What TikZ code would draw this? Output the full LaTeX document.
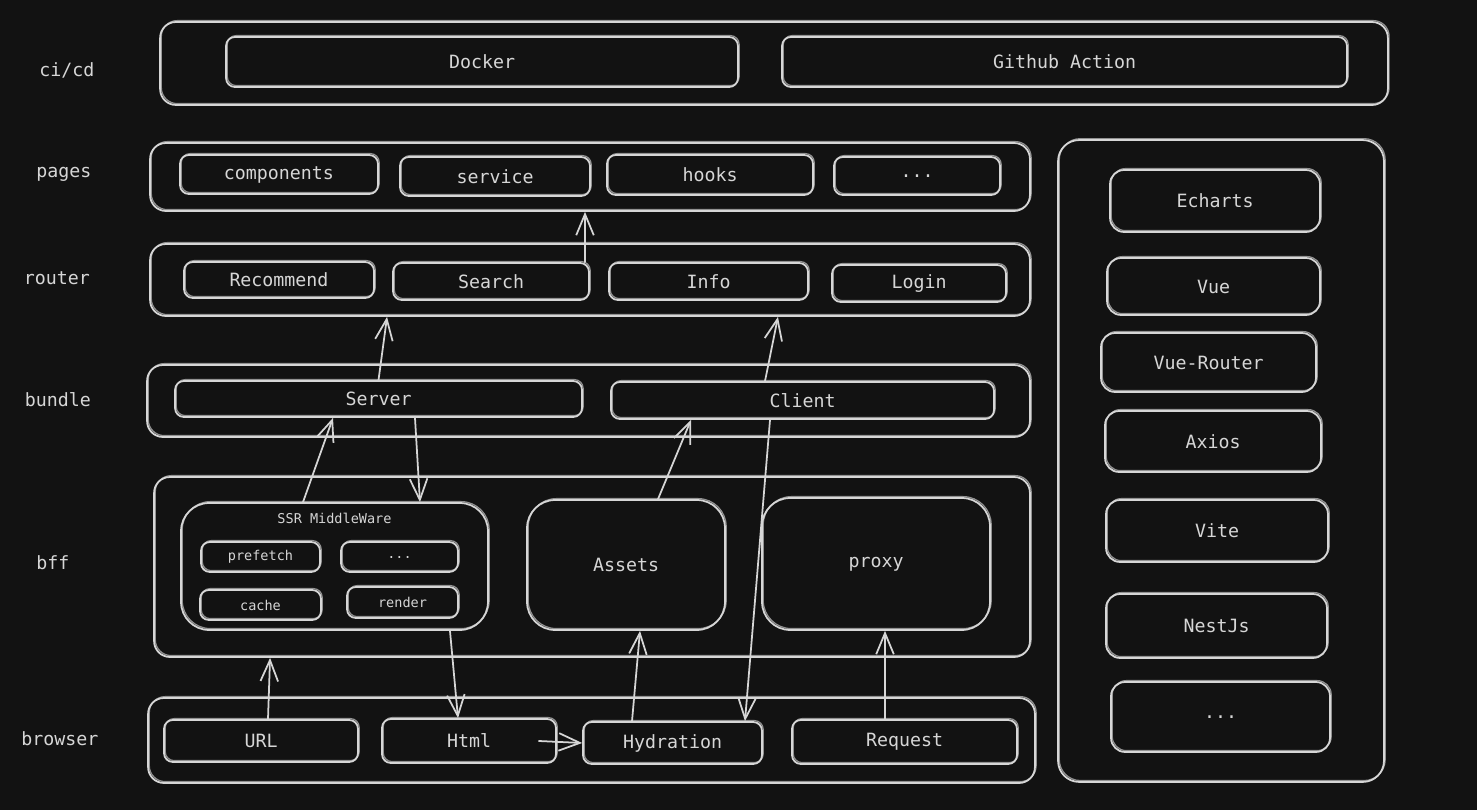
\documentclass[tikz,border=0pt]{standalone}
\usepackage{fontspec}
\newfontfamily\sketchfont{DejaVu Sans Mono}
\usetikzlibrary{arrows.meta}
\definecolor{bg}{HTML}{121212}
\definecolor{ink}{HTML}{D6D6D6}
\begin{document}
\begin{tikzpicture}[x=0.02cm,y=-0.02cm,
    every node/.style={text=ink,font=\sketchfont\fontsize{10.4}{12}\selectfont},
    box/.style={draw=ink,line width=1pt,rounded corners=5pt,inner sep=0pt,
        preaction={draw=ink!65!bg,line width=0.7pt,transform canvas={shift={(0.7pt,0.8pt)}}}},
    bigbox/.style={box,rounded corners=9pt},
    roundbox/.style={box,rounded corners=16pt},
    small/.style={font=\sketchfont\fontsize{7.7}{9}\selectfont},
    arr/.style={draw=ink,line width=1pt,line cap=round,-{Straight Barb[length=12pt,width=10pt]}}]
    \fill[bg] (0,0) rectangle (1477,810);

    % row labels
    \node at (67,70) (lcicd) {ci/cd};
    \node at (64,174) (lpages) {pages};
    \node at (57,278) (lrouter) {router};
    \node at (58,400) (lbundle) {bundle};
    \node at (53,563) (lbff) {bff};
    \node at (60,739) (lbrowser) {browser};

    % ci/cd
    \node[bigbox,minimum width=24.56cm,minimum height=1.66cm] at (774,63.5) (cicd) {};
    \node[box,minimum width=10.24cm,minimum height=1cm] at (482,62) (docker) {Docker};
    \node[box,minimum width=11.3cm,minimum height=1cm] at (1064.5,62) (gh) {Github Action};

    % pages
    \node[bigbox,minimum width=17.6cm,minimum height=1.36cm] at (590,177) (pages) {};
    \node[box,minimum width=3.96cm,minimum height=0.78cm] at (279,174.5) (comp) {components};
    \node[box,minimum width=3.8cm,minimum height=0.78cm] at (495,176.5) (svc) {service};
    \node[box,minimum width=4.12cm,minimum height=0.8cm] at (710,175) (hooks) {hooks};
    \node[box,minimum width=3.32cm,minimum height=0.76cm] at (917,176) (pmore) {...};

    % router
    \node[bigbox,minimum width=17.6cm,minimum height=1.44cm] at (590,280) (router) {};
    \node[box,minimum width=3.8cm,minimum height=0.72cm] at (279,280) (rec) {Recommend};
    \node[box,minimum width=3.92cm,minimum height=0.74cm] at (491,281.5) (search) {Search};
    \node[box,minimum width=3.98cm,minimum height=0.74cm] at (708.5,281.5) (info) {Info};
    \node[box,minimum width=3.48cm,minimum height=0.74cm] at (919,283.5) (login) {Login};

    % bundle
    \node[bigbox,minimum width=17.66cm,minimum height=1.44cm] at (588.5,401) (bundle) {};
    \node[box,minimum width=8.14cm,minimum height=0.72cm] at (378.5,399) (server) {Server};
    \node[box,minimum width=7.66cm,minimum height=0.74cm] at (802.5,400.5) (client) {Client};

    % bff
    \node[bigbox,minimum width=17.52cm,minimum height=3.6cm] at (592,567) (bff) {};
    \node[roundbox,minimum width=6.14cm,minimum height=2.54cm,
        label={[small,anchor=north,yshift=-3pt]north:SSR MiddleWare}] at (334.5,566.5) (ssr) {};
    \node[box,small,minimum width=2.38cm,minimum height=0.6cm] at (260.5,557) (prefetch) {prefetch};
    \node[box,small,minimum width=2.34cm,minimum height=0.6cm] at (399.5,557) (smore) {...};
    \node[box,small,minimum width=2.42cm,minimum height=0.6cm] at (260.5,605) (cache) {cache};
    \node[box,small,minimum width=2.22cm,minimum height=0.62cm] at (402.5,602.5) (render) {render};
    \node[roundbox,minimum width=3.96cm,minimum height=2.6cm] at (626,565) (assets) {Assets};
    \node[roundbox,minimum width=4.56cm,minimum height=2.64cm] at (876,564) (proxy) {proxy};

    % browser
    \node[bigbox,minimum width=17.74cm,minimum height=1.7cm] at (591.5,740.5) (browser) {};
    \node[box,minimum width=3.88cm,minimum height=0.84cm] at (261,741) (url) {URL};
    \node[box,minimum width=3.48cm,minimum height=0.88cm] at (469,741) (html) {Html};
    \node[box,minimum width=3.58cm,minimum height=0.84cm] at (672.5,743) (hyd) {Hydration};
    \node[box,minimum width=4.5cm,minimum height=0.88cm] at (904.5,742) (req) {Request};

    % libs
    \node[box,rounded corners=12pt,minimum width=6.52cm,minimum height=12.84cm] at (1221,461) (libs) {};
    \node[box,rounded corners=8pt,minimum width=4.2cm,minimum height=1.24cm] at (1215,201) (echarts) {Echarts};
    \node[box,rounded corners=8pt,minimum width=4.26cm,minimum height=1.14cm] at (1213.5,286.5) (vue) {Vue};
    \node[box,rounded corners=8pt,minimum width=4.3cm,minimum height=1.18cm] at (1208.5,362.5) (vuerouter) {Vue-Router};
    \node[box,rounded corners=8pt,minimum width=4.32cm,minimum height=1.22cm] at (1213,441.5) (axios) {Axios};
    \node[box,rounded corners=8pt,minimum width=4.44cm,minimum height=1.24cm] at (1217,531) (vite) {Vite};
    \node[box,rounded corners=8pt,minimum width=4.42cm,minimum height=1.28cm] at (1216.5,626) (nest) {NestJs};
    \node[box,rounded corners=8pt,minimum width=4.38cm,minimum height=1.4cm] at (1220.5,717) (lmore) {...};

    \path
        ([xshift=1.88cm]search.north) edge[arr] ([xshift=-0.1cm]pages.south)
        (server.north) edge[arr] ([xshift=-4.06cm]router.south)
        ([xshift=-0.63cm]ssr.north) edge[arr] ([xshift=-0.91cm]server.south)
        ([xshift=0.73cm]server.south) edge[arr] ([xshift=1.71cm]ssr.north)
        ([xshift=0.64cm]assets.north) edge[arr] ([xshift=-2.23cm]client.south)
        ([xshift=-0.75cm]client.north) edge[arr] ([xshift=3.76cm]router.south)
        ([xshift=-0.65cm]client.south) edge[arr] ([xshift=1.45cm]hyd.north)
        ([xshift=0.14cm]url.north) edge[arr] ([xshift=-6.44cm]bff.south)
        ([xshift=2.31cm]ssr.south) edge[arr] ([xshift=-0.22cm]html.north)
        ([xshift=-0.81cm]hyd.north) edge[arr] ([xshift=0.28cm]assets.south)
        ([xshift=-0.39cm]req.north) edge[arr] ([xshift=0.18cm]proxy.south)
        ([xshift=-0.36cm]html.east) edge[arr] (hyd.west);
\end{tikzpicture}
\end{document}
